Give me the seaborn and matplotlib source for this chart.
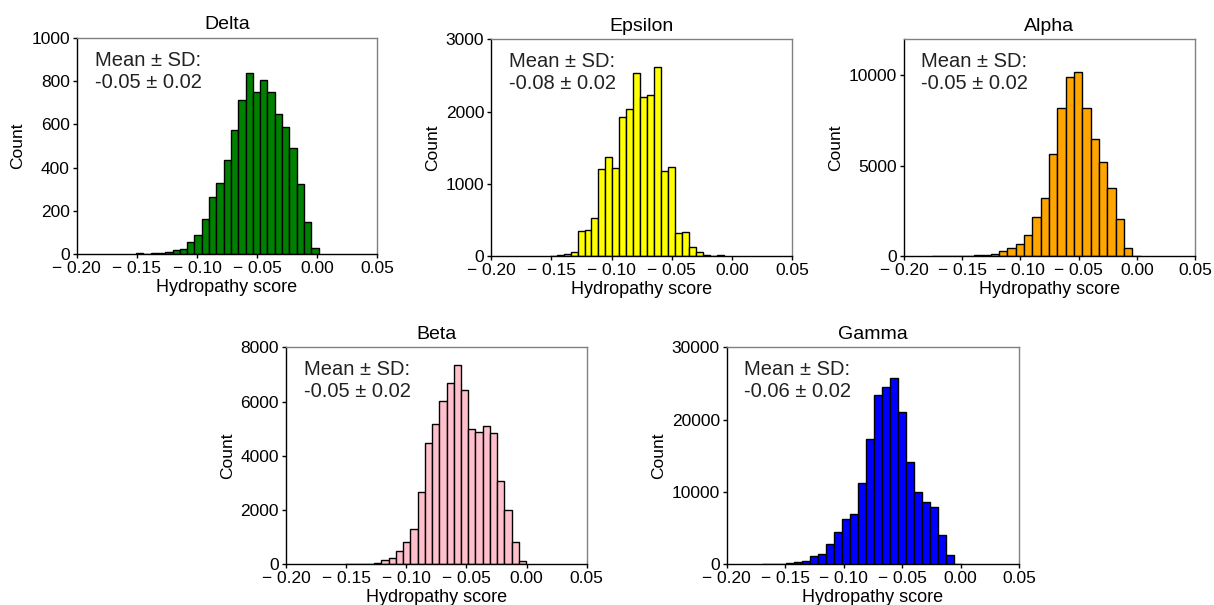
import numpy as np
import pandas as pd
import matplotlib
matplotlib.use("Agg")
import matplotlib.pyplot as plt
import seaborn as sns

# Histogram counts per lineage (25 equal-width bins each)
delta_counts = [4, 3, 6, 6, 9, 20, 26, 55, 88, 165, 263, 329, 434, 574, 712,
                835, 751, 805, 751, 648, 586, 489, 325, 149, 28]
epsilon_counts = [5, 9, 23, 51, 341, 360, 526, 1200, 1366, 1214, 1929, 2031,
                  2529, 2206, 2234, 2621, 1181, 1228, 314, 328, 129, 51, 14, 5, 9]
alpha_counts = [8, 8, 5, 18, 18, 37, 55, 92, 277, 425, 647, 1146, 2144, 3234,
                5673, 8205, 9887, 10182, 8205, 6468, 5230, 3751, 2051, 462, 10]
beta_counts = [5, 12, 25, 25, 61, 147, 221, 479, 836, 1290, 2679, 4486, 5186,
               6034, 6698, 7337, 6428, 5002, 4867, 5100, 4830, 3085, 2003, 836, 123]
gamma_counts = [46, 46, 92, 138, 323, 461, 1106, 1428, 2811, 4516, 6313, 6958,
                11290, 17280, 23363, 24468, 25713, 21058, 14100, 9953, 8663,
                7880, 4101, 1244, 92]

# Bin start and width of each histogram
delta_bins = (-0.1506, 0.00607)
epsilon_bins = (-0.1515, 0.0058)
alpha_bins = (-0.1757, 0.00716)
beta_bins = (-0.1507, 0.00601)
gamma_bins = (-0.1695, 0.00684)

names = ["Delta", "Epsilon", "Alpha", "Beta", "Gamma"]
summaries = ["-0.05 ± 0.02", "-0.08 ± 0.02", "-0.05 ± 0.02",
             "-0.05 ± 0.02", "-0.06 ± 0.02"]
colors = ["green", "yellow", "orange", "pink", "blue"]
ylims = [1000, 3000, 12000, 8000, 30000]
yticks = [[0, 200, 400, 600, 800, 1000],
          [0, 1000, 2000, 3000],
          [0, 5000, 10000],
          [0, 2000, 4000, 6000, 8000],
          [0, 10000, 20000, 30000]]
xticks = [-0.20, -0.15, -0.10, -0.05, 0.00, 0.05]

counts_all = [delta_counts, epsilon_counts, alpha_counts, beta_counts, gamma_counts]
bins_all = [delta_bins, epsilon_bins, alpha_bins, beta_bins, gamma_bins]

sns.set_style("ticks")
plt.rcParams["font.family"] = ["Liberation Sans", "DejaVu Sans"]
plt.rcParams["text.color"] = "black"
plt.rcParams["axes.labelcolor"] = "black"


def minus_fmt(v, _pos):
    s = f"{abs(v):.2f}"
    return ("\u2212 " + s) if v < -1e-12 else s


W, H = 1214, 605
fig = plt.figure(figsize=(W / 100, H / 100), dpi=100)

# Axes boxes in pixels: left, right, top, bottom
boxes = [(76.7, 377.3, 37.7, 254.3),
         (491.3, 792.0, 39.3, 256.0),
         (904.0, 1195.0, 39.3, 256.0),
         (286.0, 586.7, 347.3, 564.3),
         (726.7, 1019.0, 347.3, 564.3)]

for name, summ, col, ylim, yt, counts, (start, width), box in zip(
        names, summaries, colors, ylims, yticks, counts_all, bins_all, boxes):
    l, r, t, b = box
    ax = fig.add_axes([l / W, 1 - b / H, (r - l) / W, (b - t) / H])
    n = len(counts)
    edges = [start + width * i for i in range(n + 1)]
    centers = [(edges[i] + edges[i + 1]) / 2 for i in range(n)]
    df = pd.DataFrame({"score": centers, "count": counts})
    sns.histplot(data=df, x="score", weights="count", bins=edges, color=col,
                 edgecolor="black", linewidth=1.0, alpha=1.0, ax=ax)
    ax.set_xlim(-0.20, 0.05)
    ax.set_ylim(0, ylim)
    ax.set_xticks(xticks)
    ax.xaxis.set_major_formatter(matplotlib.ticker.FuncFormatter(minus_fmt))
    ax.set_yticks(yt)
    ax.tick_params(labelsize=12.5, length=3, width=1, colors="black", pad=2)
    ax.set_xlabel("Hydropathy score", fontsize=13, labelpad=2, color="black")
    ax.set_ylabel("Count", fontsize=12.5, labelpad=4, color="black")
    ax.set_title(name, fontsize=14, pad=6, color="black")
    for side in ("left", "bottom"):
        ax.spines[side].set_color("black")
        ax.spines[side].set_linewidth(1.0)
    for side in ("top", "right"):
        ax.spines[side].set_color("#808080")
        ax.spines[side].set_linewidth(1.0)
    ax.text(0.06, 0.94, "Mean ± SD:\n" + summ, transform=ax.transAxes,
            ha="left", va="top", fontsize=14.5, color="#222222")

fig.savefig("out.png", dpi=100)
